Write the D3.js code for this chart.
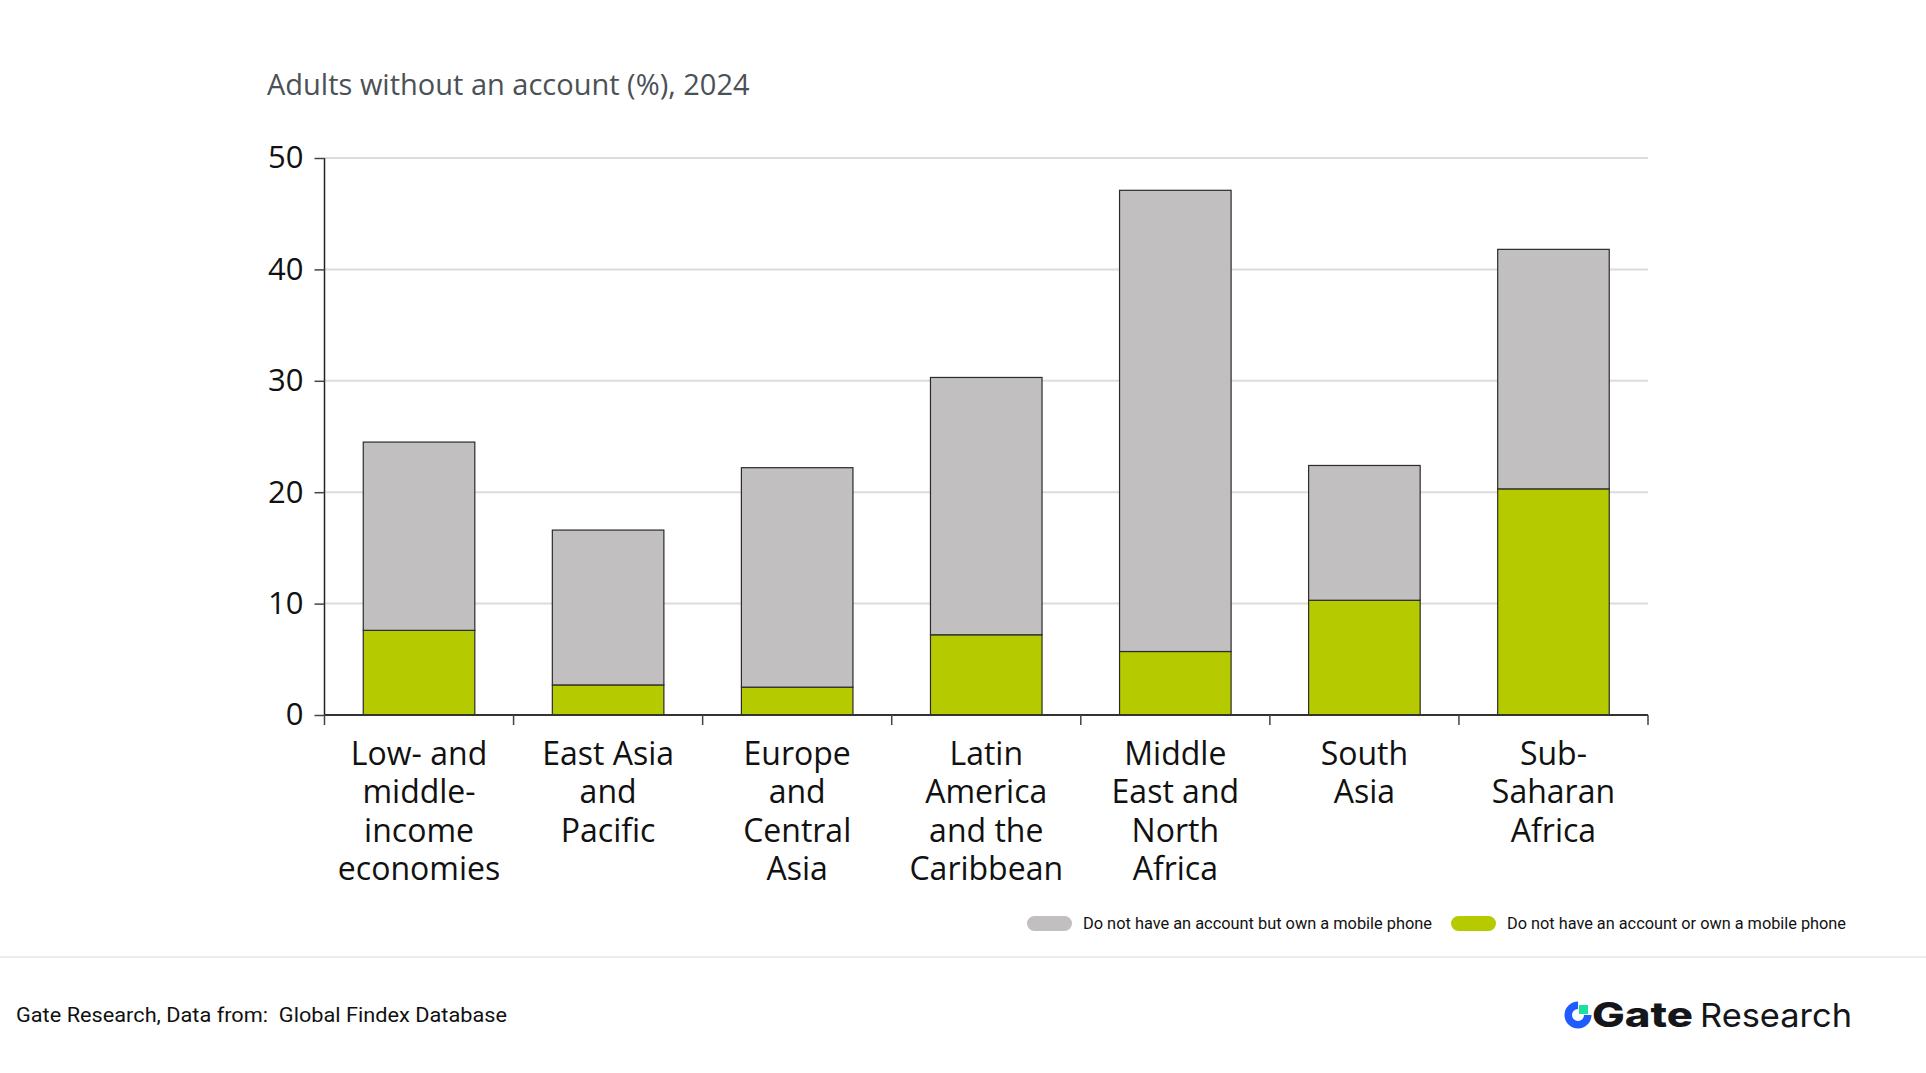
<!DOCTYPE html>
<html lang="en">
<head>
  <meta charset="UTF-8">
  <title>Adults without an account</title>
  <script src="https://d3js.org/d3.v7.min.js" charset="utf-8"></script>
  <style>
    body { margin: 0; background: #fff; }
    svg { display: block; }
  </style>
</head>
<body>
</body>
<script>
  // values
  let regions = ['Low- and middle-income economies', 'East Asia and Pacific', 'Europe and Central Asia',
    'Latin America and the Caribbean', 'Middle East and North Africa', 'South Asia', 'Sub-Saharan Africa']
  let labelLines = [
    ['Low- and', 'middle-', 'income', 'economies'],
    ['East Asia', 'and', 'Pacific'],
    ['Europe', 'and', 'Central', 'Asia'],
    ['Latin', 'America', 'and the', 'Caribbean'],
    ['Middle', 'East and', 'North', 'Africa'],
    ['South', 'Asia'],
    ['Sub-', 'Saharan', 'Africa']
  ]
  let noPhone = [7.6, 2.7, 2.5, 7.2, 5.7, 10.3, 20.3]
  let withPhone = [16.9, 13.9, 19.7, 23.1, 41.4, 12.1, 21.5]
  let yTicks = [0, 10, 20, 30, 40, 50]
  let seriesNames = ['Do not have an account but own a mobile phone', 'Do not have an account or own a mobile phone']
  let colors = { withPhone: '#c2bfc0', noPhone: '#b5cb00' }

  const W = 1926, H = 1073
  const pLeft = 324.5, pRight = 1648, pTop = 158, pBottom = 715

  var svg = d3.select('body').append('svg').attr('width', W).attr('height', H)

  svg.append('text')
    .attr('x', 267).attr('y', 95)
    .attr('font-family', 'Open Sans').attr('font-size', 29).attr('fill', '#4b5156')
    .text('Adults without an account (%), 2024')

  var x = d3.scaleBand().domain(regions).range([pLeft, pRight]).paddingInner(0.41).paddingOuter(0.205)
  var y = d3.scaleLinear().domain([0, 50]).range([pBottom, pTop])

  // gridlines
  svg.append('g').selectAll('line').data(yTicks.filter(d => d > 0)).enter().append('line')
    .attr('x1', pLeft).attr('x2', pRight)
    .attr('y1', d => y(d)).attr('y2', d => y(d))
    .attr('stroke', '#dcdcdc').attr('stroke-width', 2)

  // stacked bars
  let rows = regions.map((r, i) => ({ region: r, noPhone: noPhone[i], withPhone: withPhone[i] }))
  let stack = d3.stack().keys(['noPhone', 'withPhone'])(rows)
  svg.append('g').selectAll('g').data(stack).enter().append('g')
    .attr('fill', d => colors[d.key])
    .selectAll('rect').data(d => d).enter().append('rect')
    .attr('x', d => x(d.data.region))
    .attr('width', x.bandwidth())
    .attr('y', d => y(d[1]))
    .attr('height', d => y(d[0]) - y(d[1]))
    .attr('stroke', '#2b2b2b').attr('stroke-width', 1.2)

  // y axis
  var yAxis = svg.append('g').attr('transform', 'translate(' + pLeft + ',0)')
    .call(d3.axisLeft(y).tickValues(yTicks).tickSize(10).tickPadding(11))
  yAxis.select('.domain').attr('stroke', '#222').attr('stroke-width', 1.5).attr('d', 'M0,' + pTop + 'V' + pBottom)
  yAxis.selectAll('.tick line').attr('stroke', '#444').attr('stroke-width', 1.5)
  yAxis.selectAll('.tick text').attr('font-family', 'Open Sans').attr('font-size', 31).attr('fill', '#111')

  // x axis: ticks at band boundaries
  var bounds = regions.map(r => x(r) - x.step() * x.paddingInner() / 2)
  bounds.push(pRight)
  var xAxis = svg.append('g')
  xAxis.append('line').attr('x1', pLeft).attr('x2', pRight).attr('y1', pBottom).attr('y2', pBottom)
    .attr('stroke', '#333').attr('stroke-width', 2)
  xAxis.selectAll('.bt').data(bounds).enter().append('line')
    .attr('x1', d => d).attr('x2', d => d).attr('y1', pBottom).attr('y2', pBottom + 10)
    .attr('stroke', '#444').attr('stroke-width', 1.5)

  var lbl = svg.append('g').selectAll('text').data(regions).enter().append('text')
    .attr('x', d => x(d) + x.bandwidth() / 2)
    .attr('y', 765)
    .attr('text-anchor', 'middle')
    .attr('font-family', 'Open Sans').attr('font-size', 32).attr('fill', '#111')
  lbl.selectAll('tspan').data((d, i) => labelLines[i]).enter().append('tspan')
    .attr('x', function () { return this.parentNode.getAttribute('x') })
    .attr('dy', (d, j) => j === 0 ? 0 : 38.3)
    .text(d => d)

  // legend
  var legendX = [1027, 1451]
  var legendW = [349, 339]
  var leg = svg.append('g').selectAll('g').data(seriesNames).enter().append('g')
    .attr('transform', (d, i) => 'translate(' + legendX[i] + ',916)')
  leg.append('rect').attr('width', 45).attr('height', 15).attr('rx', 7.5)
    .attr('fill', (d, i) => i === 0 ? colors.withPhone : colors.noPhone)
  leg.append('text').attr('x', 56).attr('y', 13)
    .attr('font-family', 'Roboto').attr('font-size', 16).attr('fill', '#111')
    .attr('textLength', (d, i) => legendW[i]).attr('lengthAdjust', 'spacingAndGlyphs')
    .text(d => d)

  // separator + footer
  svg.append('line').attr('x1', 0).attr('x2', W).attr('y1', 957).attr('y2', 957)
    .attr('stroke', '#ececec').attr('stroke-width', 2)
  svg.append('text').attr('x', 16).attr('y', 1022)
    .attr('font-family', 'Roboto').attr('font-size', 21).attr('fill', '#111')
    .style('white-space', 'pre')
    .attr('textLength', 491).attr('lengthAdjust', 'spacingAndGlyphs')
    .text('Gate Research, Data from:  Global Findex Database')

  // logo
  var logo = svg.append('g').attr('transform', 'translate(1578,1015)')
  logo.append('path')
    .attr('d', d3.arc().innerRadius(6).outerRadius(13.5).startAngle(Math.PI / 2).endAngle(Math.PI * 2)())
    .attr('fill', '#1f5bff')
  logo.append('rect').attr('x', 1).attr('y', -10).attr('width', 9).attr('height', 9).attr('fill', '#19e29e')
  svg.append('text').attr('x', 1592).attr('y', 1027)
    .attr('font-family', 'Inter').attr('font-weight', 800).attr('font-size', 34).attr('fill', '#15161a')
    .attr('textLength', 101).attr('lengthAdjust', 'spacingAndGlyphs')
    .text('Gate')
  svg.append('text').attr('x', 1700).attr('y', 1027)
    .attr('font-family', 'Inter').attr('font-size', 33).attr('fill', '#15161a')
    .attr('textLength', 152).attr('lengthAdjust', 'spacingAndGlyphs')
    .text('Research')
</script>
</html>
